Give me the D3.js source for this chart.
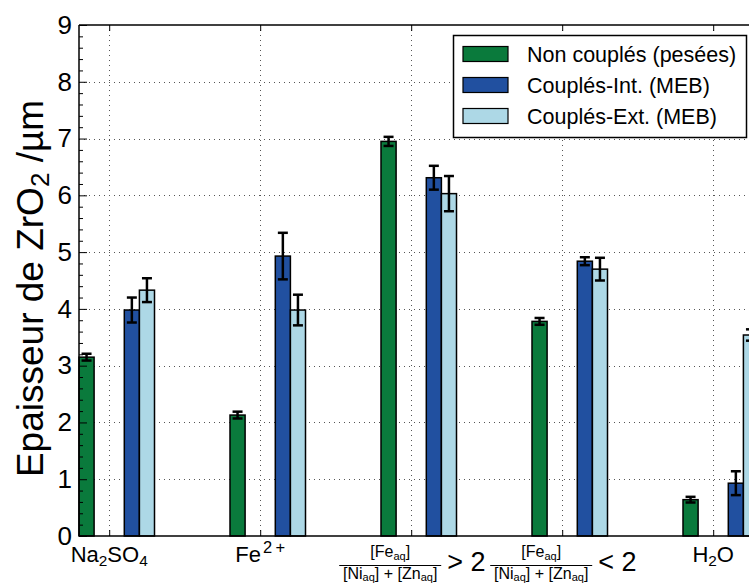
<!DOCTYPE html>
<html><head><meta charset="utf-8">
<script src="https://cdn.jsdelivr.net/npm/d3@7"></script>
<style>
html,body{margin:0;padding:0;background:#fff;}
svg{display:block;font-family:"Liberation Sans",Arial,Helvetica,sans-serif;}
</style></head>
<body><svg id="c" width="749" height="583"></svg>
<script>
// ---- data ----
const categories = ["Na2SO4", "Fe2+", "Fe/(Ni+Zn) > 2", "Fe/(Ni+Zn) < 2", "H2O"];
const seriesNames = ["Non couplés (pesées)", "Couplés-Int. (MEB)", "Couplés-Ext. (MEB)"];
const nonCouples    = [3.15, 2.13, 6.95, 3.78, 0.64];
const nonCouplesErr = [0.06, 0.06, 0.08, 0.06, 0.05];
const coupleInt     = [3.98, 4.93, 6.31, 4.84, 0.93];
const coupleIntErr  = [0.22, 0.41, 0.21, 0.07, 0.21];
const coupleExt     = [4.33, 3.98, 6.03, 4.70, 3.54];
const coupleExtErr  = [0.21, 0.27, 0.31, 0.20, 0.10];
const yTicks = [0, 1, 2, 3, 4, 5, 6, 7, 8, 9];
const colors = ["#0a7a3c", "#2150a0", "#add8e6"];
const offsets = [-0.2, 0.1, 0.2];   // bar left edges relative to category tick (in category units)
const barWidth = 0.1;

// ---- layout ----
const svg = d3.select("#c");
const L = 79, T = 25, B = 536, R = 79 + 4.7 * 151;
const x = d3.scaleLinear().domain([-0.2, 4.5]).range([L, R]);
const y = d3.scaleLinear().domain([0, 9]).range([B, T]);

// grid
const grid = svg.append("g").attr("stroke", "#555").attr("stroke-width", 1).attr("stroke-dasharray", "1,4");
yTicks.filter(v => v > 0 && v < 9).forEach(v => {
  grid.append("line").attr("x1", L).attr("x2", 749).attr("y1", Math.round(y(v)) + 0.5).attr("y2", Math.round(y(v)) + 0.5);
});
categories.forEach((c, i) => {
  grid.append("line").attr("x1", Math.round(x(i)) + 0.5).attr("x2", Math.round(x(i)) + 0.5).attr("y1", T).attr("y2", B);
});

// bars
const series = [
  {v: nonCouples, e: nonCouplesErr},
  {v: coupleInt, e: coupleIntErr},
  {v: coupleExt, e: coupleExtErr}
];
series.forEach((s, si) => {
  const g = svg.append("g");
  g.selectAll("rect").data(s.v).join("rect")
    .attr("x", (d, i) => x(i + offsets[si]))
    .attr("width", x(barWidth) - x(0))
    .attr("y", d => y(d))
    .attr("height", d => y(0) - y(d))
    .attr("fill", colors[si]).attr("stroke", "#000").attr("stroke-width", 1.5);
});
// error bars
series.forEach((s, si) => {
  const g = svg.append("g").attr("stroke", "#000").attr("stroke-width", 2.5);
  s.v.forEach((d, i) => {
    const cx = x(i + offsets[si] + barWidth / 2);
    const y1 = y(d + s.e[i]), y2 = y(d - s.e[i]);
    g.append("line").attr("x1", cx).attr("x2", cx).attr("y1", y1).attr("y2", y2);
    g.append("line").attr("x1", cx - 5).attr("x2", cx + 5).attr("y1", y1).attr("y2", y1);
    g.append("line").attr("x1", cx - 5).attr("x2", cx + 5).attr("y1", y2).attr("y2", y2);
  });
});

// frame
const frame = svg.append("g").attr("stroke", "#000").attr("stroke-width", 1.5).attr("fill", "none");
frame.append("line").attr("x1", L).attr("x2", 749).attr("y1", B).attr("y2", B);
frame.append("line").attr("x1", L).attr("x2", 749).attr("y1", T).attr("y2", T);
frame.append("line").attr("x1", L).attr("x2", L).attr("y1", T).attr("y2", B);

// y axis (ticks inward)
const yAxis = svg.append("g").attr("transform", `translate(${L},0)`)
  .call(d3.axisLeft(y).tickValues(yTicks).tickSize(-8).tickPadding(7).tickFormat(d3.format("d")));
yAxis.select(".domain").remove();
yAxis.selectAll("text").attr("font-size", 26).attr("fill", "#000").attr("font-family", "Liberation Sans, Arial, sans-serif");
yAxis.selectAll("line").attr("stroke-width", 1);
const minor = d3.range(0, 9.001, 0.2).filter(v => Math.abs(v - Math.round(v)) > 1e-6);
const yMinor = svg.append("g").attr("transform", `translate(${L},0)`)
  .call(d3.axisLeft(y).tickValues(minor).tickSize(-4).tickFormat(""));
yMinor.select(".domain").remove();
yMinor.selectAll("line").attr("stroke-width", 1);

// x ticks (inward, bottom and top)
const xb = svg.append("g").attr("transform", `translate(0,${B})`)
  .call(d3.axisBottom(x).tickValues(d3.range(categories.length)).tickSize(-6).tickFormat(""));
xb.select(".domain").remove();
const xt = svg.append("g").attr("transform", `translate(0,${T})`)
  .call(d3.axisTop(x).tickValues(d3.range(categories.length)).tickSize(-6).tickFormat(""));
xt.select(".domain").remove();

// x tick labels
const lab = svg.append("g").attr("fill", "#000");
function simpleLabel(i, parts, size) {
  const t = lab.append("text").attr("x", x(i)).attr("y", 562).attr("text-anchor", "middle").attr("font-size", size);
  parts.forEach(p => {
    const ts = t.append("tspan").text(p.t);
    if (p.sub) ts.attr("font-size", size * 0.7).attr("dy", 4);
    else if (p.sup) ts.attr("font-size", size * 0.75).attr("dx", 2).attr("dy", -9);
    else if (p.reset) ts.attr("dy", p.reset);
  });
}
simpleLabel(0, [{t: "Na"}, {t: "2", sub: true}, {t: "SO", reset: -4}, {t: "4", sub: true}], 22);
simpleLabel(1, [{t: "Fe"}, {t: "2\u2009+", sup: true}], 22);
simpleLabel(4, [{t: "H"}, {t: "2", sub: true}, {t: "O", reset: -4}], 22);

function fracLabel(i, rel) {
  const g = lab.append("g").attr("transform", `translate(${x(i)},0)`);
  const fx = -21; // fraction centre relative to tick
  const num = g.append("text").attr("x", fx).attr("y", 557).attr("text-anchor", "middle").attr("font-size", 16);
  num.append("tspan").text("[Fe");
  num.append("tspan").text("aq").attr("font-size", 11).attr("dy", 3);
  num.append("tspan").text("]").attr("dy", -3);
  g.append("line").attr("x1", fx - 51).attr("x2", fx + 51).attr("y1", 565.5).attr("y2", 565.5).attr("stroke", "#000").attr("stroke-width", 1.2);
  const den = g.append("text").attr("x", fx).attr("y", 579).attr("text-anchor", "middle").attr("font-size", 16);
  den.append("tspan").text("[Ni");
  den.append("tspan").text("aq").attr("font-size", 11).attr("dy", 2);
  den.append("tspan").text("] + [Zn").attr("dy", -2);
  den.append("tspan").text("aq").attr("font-size", 11).attr("dy", 2);
  den.append("tspan").text("]").attr("dy", -2);
  g.append("text").attr("x", fx + 57).attr("y", 571).attr("font-size", 27).text(rel + " 2");
}
fracLabel(2, ">");
fracLabel(3, "<");

// y label
svg.append("text")
  .attr("transform", `translate(43,${(T + B) / 2 + 8}) rotate(-90)`)
  .attr("text-anchor", "middle").attr("font-size", 37).attr("fill", "#000")
  .call(t => {
    t.append("tspan").text("Epaisseur de ZrO");
    t.append("tspan").text("2").attr("font-size", 26).attr("dy", 6);
    t.append("tspan").text(" /µm").attr("dy", -6);
  });

// legend
const lg = svg.append("g");
lg.append("rect").attr("x", 453.5).attr("y", 35.5).attr("width", 293).attr("height", 102)
  .attr("fill", "#fff").attr("stroke", "#000").attr("stroke-width", 1.5);
seriesNames.forEach((n, i) => {
  const cy = 54 + i * 31;
  lg.append("rect").attr("x", 463).attr("y", cy - 7.5).attr("width", 45).attr("height", 15)
    .attr("fill", colors[i]).attr("stroke", "#000").attr("stroke-width", 1.2);
  lg.append("text").attr("x", 527).attr("y", cy + 7.5).attr("font-size", 21.5).attr("fill", "#000").text(n);
});
</script></body></html>
